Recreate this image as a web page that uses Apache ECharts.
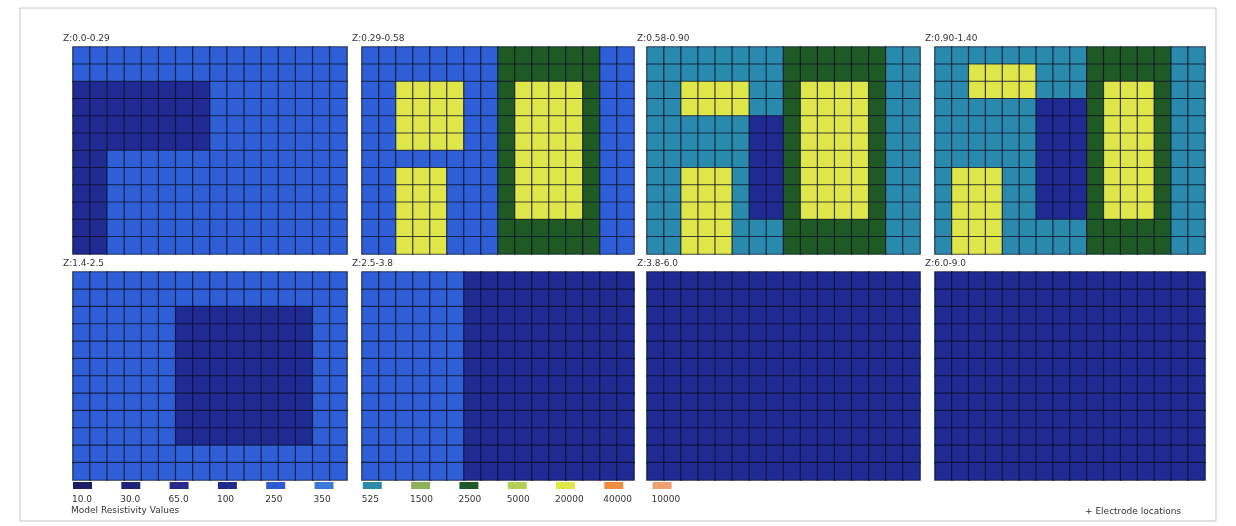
<!DOCTYPE html>
<html>
<head>
<meta charset="utf-8">
<script src="https://cdn.jsdelivr.net/npm/echarts@6/dist/echarts.min.js"></script>
<style>
html,body{margin:0;padding:0;background:#fff;}
#c{width:1236px;height:526px;}
</style>
</head>
<body>
<div id="c"></div>
<script>
// Legend classes (resistivity values) and colours
var classLabels = ["10.0","30.0","65.0","100","250","350","525","1500","2500","5000","20000","40000","10000"];
var classColors = ["#1c1f66","#1f2278","#262a8c","#1f2a8a","#2c5bd2","#3a7ad8","#2a8bad","#8fb05a","#1e5a2a","#b3cf55","#e0e846","#ee8e3e","#eea070"];
// cell colours as they appear in the model slices (slightly different tints than legend swatches)
var cellColors = ["#1c1f66","#1f2278","#262a8c","#1f2a93","#2e5fd6","#3a7ad8","#2a8aae","#8fb05a","#1f5a25","#b3cf55","#dfe64a","#ee8e3e","#eea070"];

var layerTitles = ["Z:0.0-0.29","Z:0.29-0.58","Z:0.58-0.90","Z:0.90-1.40","Z:1.4-2.5","Z:2.5-3.8","Z:3.8-6.0","Z:6.0-9.0"];

// Each layer: 12 rows (top to bottom) x 16 columns; each char = class index (A=10)
var layer1 = [
"4444444444444444","4444444444444444",
"3333333344444444","3333333344444444","3333333344444444","3333333344444444",
"3344444444444444","3344444444444444","3344444444444444","3344444444444444","3344444444444444","3344444444444444"];
var layer2 = [
"4444444488888844","4444444488888844",
"44AAAA448AAAA844","44AAAA448AAAA844","44AAAA448AAAA844","44AAAA448AAAA844",
"444444448AAAA844",
"44AAA4448AAAA844","44AAA4448AAAA844","44AAA4448AAAA844",
"44AAA44488888844","44AAA44488888844"];
var layer3 = [
"6666666688888866","6666666688888866",
"66AAAA668AAAA866","66AAAA668AAAA866",
"666666338AAAA866","666666338AAAA866","666666338AAAA866",
"66AAA6338AAAA866","66AAA6338AAAA866","66AAA6338AAAA866",
"66AAA66688888866","66AAA66688888866"];
var layer4 = [
"6666666668888866",
"66AAAA6668888866","66AAAA6668AAA866",
"6666663338AAA866","6666663338AAA866","6666663338AAA866","6666663338AAA866",
"6AAA663338AAA866","6AAA663338AAA866","6AAA663338AAA866",
"6AAA666668888866","6AAA666668888866"];
var layer5 = [
"4444444444444444","4444444444444444",
"4444443333333344","4444443333333344","4444443333333344","4444443333333344",
"4444443333333344","4444443333333344","4444443333333344","4444443333333344",
"4444444444444444","4444444444444444"];
var layer6 = [
"4444443333333333","4444443333333333","4444443333333333","4444443333333333",
"4444443333333333","4444443333333333","4444443333333333","4444443333333333",
"4444443333333333","4444443333333333","4444443333333333","4444443333333333"];
var layer7 = [
"3333333333333333","3333333333333333","3333333333333333","3333333333333333",
"3333333333333333","3333333333333333","3333333333333333","3333333333333333",
"3333333333333333","3333333333333333","3333333333333333","3333333333333333"];
var layer8 = layer7.slice();

var layers = [layer1,layer2,layer3,layer4,layer5,layer6,layer7,layer8];

// panel placement (layout only)
var panelLeft = [73,362,647,935];
var panelWidth = [274,272,273,270];
var panelTop = [47,272];
var panelHeight = [207,208];

var xCats = []; for (var i=0;i<16;i++) xCats.push(String(i));
var yCats = []; for (var j=0;j<12;j++) yCats.push(String(j));

var grids=[], xAxes=[], yAxes=[], series=[], graphics=[];
layers.forEach(function(layer, k){
  var r = Math.floor(k/4), c = k%4;
  grids.push({left:panelLeft[c], top:panelTop[r], width:panelWidth[c], height:panelHeight[r], containLabel:false});
  xAxes.push({type:'category', gridIndex:k, data:xCats, show:false});
  yAxes.push({type:'category', gridIndex:k, data:yCats, inverse:true, show:false});
  var data=[];
  layer.forEach(function(row, y){
    for (var x=0;x<row.length;x++){
      var v = parseInt(row[x],16);
      data.push({value:[x,y,v], itemStyle:{color:cellColors[v]}});
    }
  });
  series.push({type:'heatmap', xAxisIndex:k, yAxisIndex:k, data:data,
    itemStyle:{borderColor:'rgba(12,16,40,0.75)', borderWidth:1.2},
    emphasis:{disabled:true}, silent:true});
  graphics.push({type:'text', left:panelLeft[c]-10, top:panelTop[r]-13,
    style:{text:layerTitles[k], font:'9px "DejaVu Sans", sans-serif', fill:'#333'}});
});

// outer frame
graphics.push({type:'rect', shape:{x:20,y:8,width:1196,height:513}, style:{fill:'none', stroke:'#c4c4c4', lineWidth:1}, z:-1});

// legend swatches and labels
classLabels.forEach(function(lbl, i){
  var x = 73 + 48.3*i;
  graphics.push({type:'rect', shape:{x:x, y:482, width:19, height:7}, style:{fill:classColors[i]}});
  graphics.push({type:'text', x:x-1, y:495, style:{text:lbl, font:'9px "DejaVu Sans", sans-serif', fill:'#333'}});
});
graphics.push({type:'text', x:71, y:506, style:{text:'Model Resistivity Values', font:'9px "DejaVu Sans", sans-serif', fill:'#333'}});
graphics.push({type:'text', x:1085, y:507, style:{text:'+ Electrode locations', font:'9px "DejaVu Sans", sans-serif', fill:'#333'}});

var chart = echarts.init(document.getElementById('c'), null, {renderer:'canvas'});
chart.setOption({
  backgroundColor:'#ffffff',
  animation:false,
  grid:grids, xAxis:xAxes, yAxis:yAxes, series:series,
  graphic:graphics
});
</script>
</body>
</html>
